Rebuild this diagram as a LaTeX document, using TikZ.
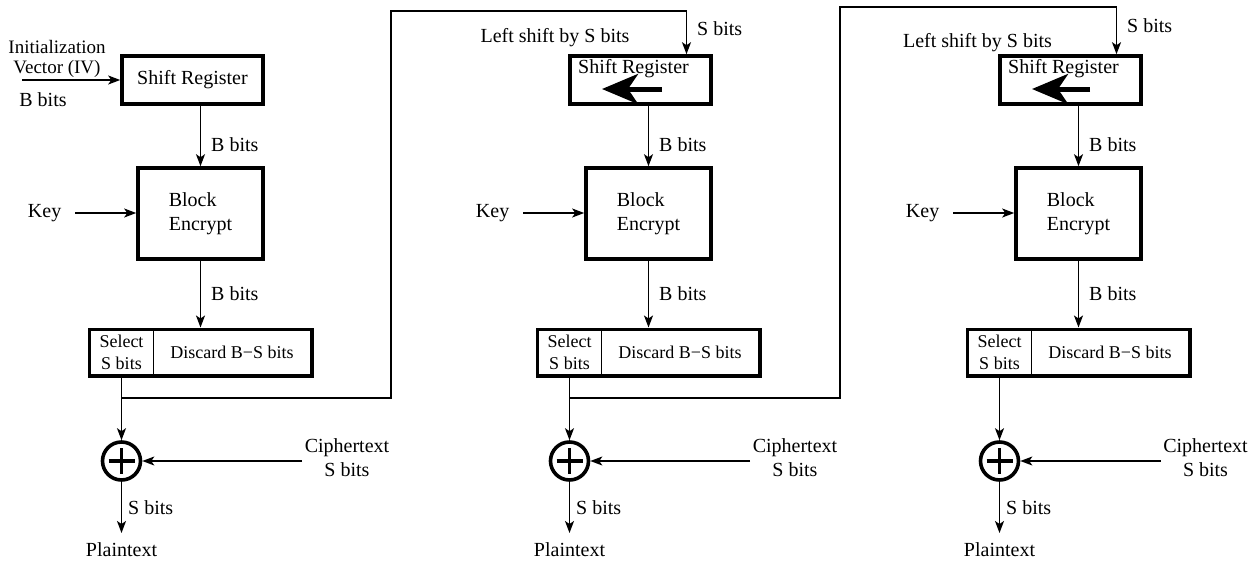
\documentclass[tikz,border=0pt]{standalone}
\usepackage{fontspec}
\setmainfont{Liberation Serif}
\usetikzlibrary{arrows.meta,fit,positioning}

\begin{document}
\begin{tikzpicture}[x=0.5pt, y=-0.5pt, line width=0.7pt, font=\fontsize{10}{12}\selectfont,
    >={Stealth[length=6pt, width=4.5pt, inset=1.5pt]},
    regbox/.style={draw, line width=1.8pt, minimum width=70.5pt, minimum height=24pt, inner sep=0pt},
    encbox/.style={draw, line width=1.8pt, minimum width=62.5pt, minimum height=45.5pt, align=left},
    part/.style={minimum height=22.5pt, inner sep=0pt, align=center, font=\fontsize{9}{11}\selectfont},
    outbox/.style={draw, line width=1.8pt, inner sep=0pt},
    xorc/.style={circle, draw, line width=1.8pt, minimum size=19pt, inner sep=0pt,
        path picture={\draw[line width=1.8pt] ([yshift=-3pt]path picture bounding box.north) -- ([yshift=3pt]path picture bounding box.south)
            ([xshift=3pt]path picture bounding box.west) -- ([xshift=-3pt]path picture bounding box.east);}},
    lbl/.style={inner sep=1pt},
    shiftarrow/.style={line width=2.5pt, -{Stealth[length=18pt, width=15pt, inset=5pt]}}]
    \useasboundingbox (0,0) rectangle (1259,563);

    % first stage
    \node[lbl, align=center, font=\fontsize{9.5}{10}\selectfont] (iv1) at (57,59) {Initialization\\Vector (IV)};
    \node[lbl] (ib1) at (43,100) {B bits};
    \coordinate (ivin) at (22,80);
    \node[regbox] (sr1) at (192.5,80) {Shift Register};
    \node[encbox] (blk1) at (200.5,213.5) {Block\\ Encrypt};
    \node[lbl, anchor=east, inner xsep=6.5pt] (key1) at (75,213) {Key};
    \node[part, minimum width=31.5pt] (sel1) at (121.5,352.5) {Select\\S bits};
    \node[part, minimum width=79pt] (dis1) at (232,352.5) {Discard B−S bits};
    \node[outbox, fit=(sel1)(dis1)] (out1) {};
    \node[xorc] (xor1) at (121.5,461) {};
    \node[lbl, align=center] (ct1) at (347,458) {Ciphertext\\S bits};
    \node[lbl, anchor=north, inner sep=4.5pt] (pt1) at (121.5,533) {Plaintext};
    \coordinate (fb1) at (391,398);

    % second stage
    \node[lbl] (ls2) at (555,38) {Left shift by S bits};
    \node[regbox] (sr2) at (640.5,80) {};
    \node[lbl] (srt2) at (633.5,69) {Shift Register};
    \node[encbox] (blk2) at (648.5,213.5) {Block\\ Encrypt};
    \node[lbl, anchor=east, inner xsep=6.5pt] (key2) at (523,213) {Key};
    \node[part, minimum width=31.5pt] (sel2) at (569.5,352.5) {Select\\S bits};
    \node[part, minimum width=79pt] (dis2) at (680,352.5) {Discard B−S bits};
    \node[outbox, fit=(sel2)(dis2)] (out2) {};
    \node[xorc] (xor2) at (569.5,461) {};
    \node[lbl, align=center] (ct2) at (795,458) {Ciphertext\\S bits};
    \node[lbl, anchor=north, inner sep=4.5pt] (pt2) at (569.5,533) {Plaintext};
    \coordinate (fb2) at (840,398);

    % third stage
    \node[lbl] (ls3) at (977.5,43) {Left shift by S bits};
    \node[regbox] (sr3) at (1070.5,80) {};
    \node[lbl] (srt3) at (1063.5,69) {Shift Register};
    \node[encbox] (blk3) at (1078.5,213.5) {Block\\ Encrypt};
    \node[lbl, anchor=east, inner xsep=6.5pt] (key3) at (953,213) {Key};
    \node[part, minimum width=31.5pt] (sel3) at (999.5,352.5) {Select\\S bits};
    \node[part, minimum width=79pt] (dis3) at (1110,352.5) {Discard B−S bits};
    \node[outbox, fit=(sel3)(dis3)] (out3) {};
    \node[xorc] (xor3) at (999.5,461) {};
    \node[lbl, align=center] (ct3) at (1205.5,458) {Ciphertext\\S bits};
    \node[lbl, anchor=north, inner sep=4.5pt] (pt3) at (999.5,533) {Plaintext};

    % connectors
    \draw[->] (ivin) -- (sr1);
    \draw[->] (sr1.south -| blk1) -- node[lbl, pos=.65, right=4pt] {B bits} (blk1);
    \draw[->] (sr2.south -| blk2) -- node[lbl, pos=.65, right=4pt] {B bits} (blk2);
    \draw[->] (sr3.south -| blk3) -- node[lbl, pos=.65, right=4pt] {B bits} (blk3);
    \draw[->] (blk1) -- node[lbl, right=4pt] {B bits} (blk1 |- out1.north);
    \draw[->] (blk2) -- node[lbl, right=4pt] {B bits} (blk2 |- out2.north);
    \draw[->] (blk3) -- node[lbl, right=4pt] {B bits} (blk3 |- out3.north);
    \draw[->] (key1) -- (key1 -| blk1.west);
    \draw[->] (key2) -- (key2 -| blk2.west);
    \draw[->] (key3) -- (key3 -| blk3.west);
    \draw (sel1.north east) -- (sel1.south east);
    \draw (sel2.north east) -- (sel2.south east);
    \draw (sel3.north east) -- (sel3.south east);
    \draw[->] (sel1) -- (xor1);
    \draw[->] (sel2) -- (xor2);
    \draw[->] (sel3) -- (xor3);
    \draw[->] (ct1.west |- xor1) -- (xor1);
    \draw[->] (ct2.west |- xor2) -- (xor2);
    \draw[->] (ct3.west |- xor3) -- (xor3);
    \draw[->] (xor1) -- node[lbl, right=2pt] {S bits} (pt1);
    \draw[->] (xor2) -- node[lbl, right=2pt] {S bits} (pt2);
    \draw[->] (xor3) -- node[lbl, right=2pt] {S bits} (pt3);

    % feedback into the next shift register
    \draw[->] (sel1.south |- fb1) -- (fb1) -- ++(0,-387) -| ([xshift=23pt]sr2.north) node[lbl, pos=.7, right=4pt] {S bits};
    \draw[->] (sel2.south |- fb2) -- (fb2) -- ++(0,-391) -| ([xshift=23pt]sr3.north) node[lbl, pos=.7, right=4pt] {S bits};
    \draw[shiftarrow] (662,89) -- (602,89);
    \draw[shiftarrow] (1090,89) -- (1032,89);
\end{tikzpicture}
\end{document}
